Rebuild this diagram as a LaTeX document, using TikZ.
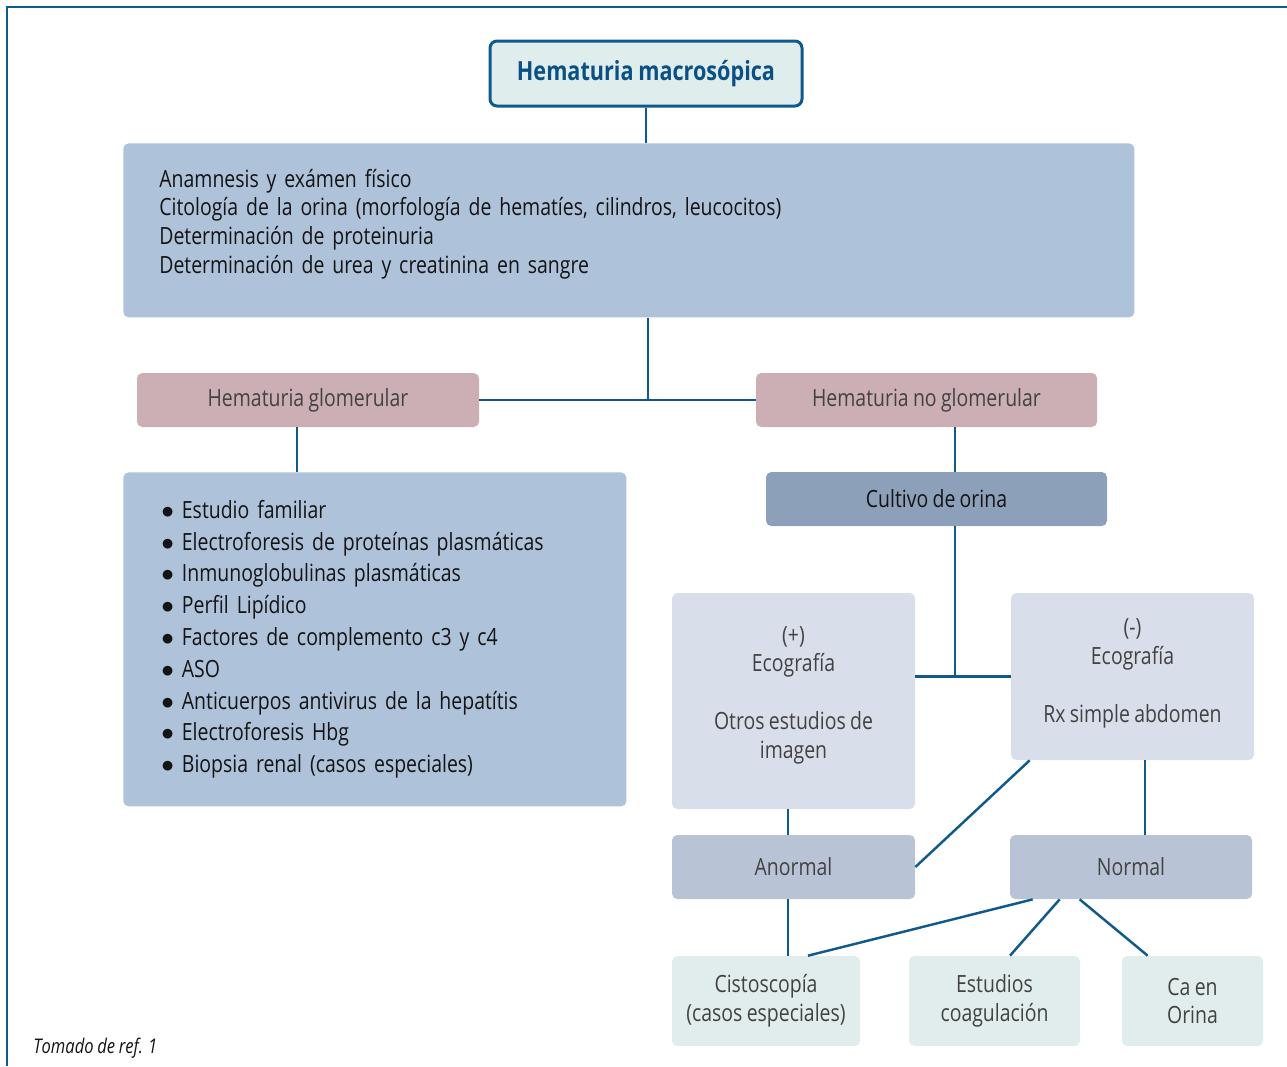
\documentclass[tikz,border=0pt]{standalone}
\usepackage{fontspec}
\setmainfont{Open Sans}[FakeStretch=0.82, WordSpace=0.85]
\usetikzlibrary{positioning, calc}
\definecolor{lineblue}{HTML}{0F5A8C}
\definecolor{titlefill}{HTML}{E0EDED}
\definecolor{titletext}{HTML}{0B5085}
\definecolor{steelbox}{HTML}{AEC2DA}
\definecolor{rosebox}{HTML}{CCAFB4}
\definecolor{slatebox}{HTML}{8CA1B9}
\definecolor{lightbox}{HTML}{D9DFEA}
\definecolor{midbox}{HTML}{B8C4D6}
\definecolor{palebox}{HTML}{E0EDEC}
\definecolor{txtgray}{HTML}{424242}
\definecolor{txtdark}{HTML}{141414}
\newcommand{\px}{0.02cm}
\newcommand{\itembullet}{$\bullet$\ }

\begin{document}
\begin{tikzpicture}[x = 0.02cm, y = -0.02cm,
		conn/.style = { draw = lineblue, line width = 1.4pt },
		box/.style = { rounded corners = 3pt, inner sep = 0pt, align = center, text = txtgray, font = \fontsize{13.5}{16.4}\selectfont },
		titlebox/.style = { box, draw = lineblue, line width = 1.7pt, rounded corners = 4pt, fill = titlefill, text = titletext, font = \fontsize{15}{18}\selectfont\bfseries },
		bluebox/.style = { box, fill = steelbox, align = left, text = txtdark },
		rosebox/.style = { box, fill = rosebox, minimum height = 54*\px },
		stepbox/.style = { box, fill = lightbox },
		resultbox/.style = { box, fill = midbox, minimum width = 243*\px, minimum height = 64*\px },
		testbox/.style = { box, fill = palebox, minimum height = 90*\px }]
		\useasboundingbox (0,0) rectangle (1287,1066);
		\draw [lineblue, line width = 1.1pt] (1287,7) -- (7,7) -- (7,1066);

		\node [titlebox, minimum width = 312*\px, minimum height = 65*\px] (title) at (646,73.5) {Hematuria macrosópica};
		\node [bluebox, anchor = north west, text width = 939*\px, inner xsep = 36*\px, minimum height = 174*\px, text depth = 59.5pt] (eval) at (123,143)
			{Anamnesis y exámen físico\\
			 Citología de la orina (morfología de hematíes, cilindros, leucocitos)\\
			 Determinación de proteinuria\\
			 Determinación de urea y creatinina en sangre};

		\node [rosebox, minimum width = 342*\px] (glom) at (308,400) {Hematuria glomerular};
		\node [rosebox, minimum width = 341*\px] (noglom) at (926.5,400) {Hematuria no glomerular};
		\coordinate (split) at (648,400);

		\node [bluebox, anchor = north west, text width = 427*\px, inner xsep = 38*\px, minimum height = 334*\px, font = \fontsize{13.5}{18.1}\selectfont] (studies) at (123,472)
			{\itembullet Estudio familiar\\
			 \itembullet Electroforesis de proteínas plasmáticas\\
			 \itembullet Inmunoglobulinas plasmáticas\\
			 \itembullet Perfil Lipídico\\
			 \itembullet Factores de complemento c3 y c4\\
			 \itembullet ASO\\
			 \itembullet Anticuerpos antivirus de la hepatítis\\
			 \itembullet Electroforesis Hbg\\
			 \itembullet Biopsia renal (casos especiales)};

		\node [box, fill = slatebox, text = txtdark, minimum width = 341*\px, minimum height = 54*\px] (culture) at (936.5,499) {Cultivo de orina};

		\node [stepbox, minimum width = 243*\px, minimum height = 216*\px, text depth = 10pt] (pos) at (793.5,701)
			{(+)\\ Ecografía\\[16.4pt] Otros estudios de\\ imagen};
		\node [stepbox, minimum width = 243*\px, minimum height = 167*\px, text depth = 7pt] (neg) at (1132.5,676.5)
			{(-)\\ Ecografía\\[16.4pt] Rx simple abdomen};

		\node [resultbox] (abnormal) at (793.5,867) {Anormal};
		\node [resultbox, minimum width = 242*\px] (normal) at (1131,867) {Normal};

		\node [testbox, minimum width = 188*\px] (cysto) at (766,1001) {Cistoscopía\\ (casos especiales)};
		\node [testbox, minimum width = 171*\px] (coag) at (994.5,1001) {Estudios\\ coagulación};
		\node [testbox, minimum width = 141*\px] (cancer) at (1192.5,1001) {Ca en\\ Orina};

		\node [anchor = base west, inner sep = 0pt, text = txtdark, font = \fontsize{11.5}{13}\selectfont\itshape] (source) at (33,1053) {Tomado de ref. 1};

		\draw [conn] (title.south) -- (title.south |- eval.north);
		\draw [conn] (eval.south -| split) -- (split);
		\draw [conn] (glom.east) -- (noglom.west);
		\draw [conn] ([xshift = -11*\px]glom.south) -- ([xshift = -11*\px]glom.south |- studies.north);
		\draw [conn] ([xshift = 28.5*\px]noglom.south) -- ([xshift = 28.5*\px]noglom.south |- culture.north);
		\draw [conn] ([xshift = 18.5*\px]culture.south) -- ([xshift = 18.5*\px]culture.south |- neg.west);
		\draw [conn] (pos.east |- neg.west) -- (neg.west);
		\draw [conn] ([xshift = -5.5*\px]pos.south) -- ([xshift = -5.5*\px]pos.south |- abnormal.north);
		\draw [conn] ([xshift = 12.5*\px]neg.south) -- ([xshift = 12.5*\px]neg.south |- normal.north);
		\draw [conn] ([xshift = 19*\px]neg.south west) -- (abnormal.east);
		\draw [conn] ([xshift = -5.5*\px]abnormal.south) -- ([xshift = -5.5*\px]abnormal.south |- cysto.north);
		\draw [conn] ([xshift = 23*\px]normal.south west) -- ([xshift = 42*\px]cysto.north);
		\draw [conn] ([xshift = 50*\px]normal.south west) -- ([xshift = 15.5*\px]coag.north);
		\draw [conn] ([xshift = 70*\px]normal.south west) -- ([xshift = 26*\px]cancer.north west);
	\end{tikzpicture}
\end{document}
